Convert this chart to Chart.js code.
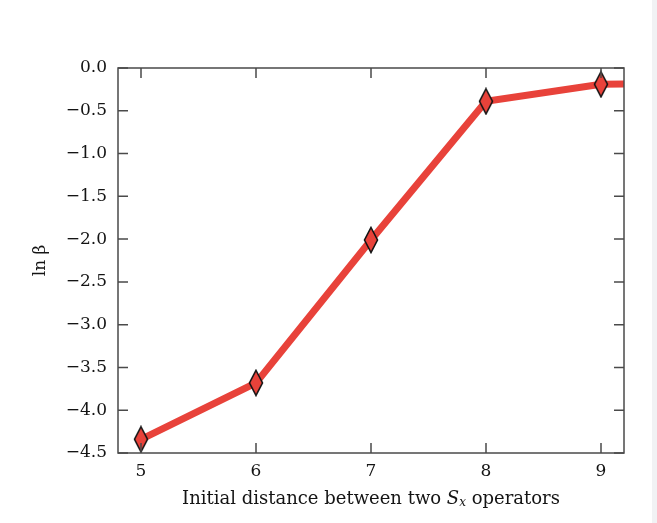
<!DOCTYPE html>
<html>
<head>
<meta charset="utf-8">
<script src="https://cdn.jsdelivr.net/npm/chart.js@4.4.1/dist/chart.umd.min.js"></script>
<style>
    html, body { margin: 0; padding: 0; background: #fff; }
    #wrap { position: relative; width: 657px; height: 523px; overflow: hidden; }
    #chart { position: absolute; left: 0; top: 0; }
    #strip { position: absolute; left: 652px; top: 0; width: 5px; height: 523px; background: #f1f2f4; }
</style>
</head>
<body>
<div id="wrap">
    <canvas id="chart" width="652" height="523"></canvas>
    <div id="strip"></div>
</div>
<script>
// Data
const distances = [5, 6, 7, 8, 9, 10];
const lnBeta = [-4.34, -3.68, -2.01, -0.39, -0.19, -0.18];
const xTicks = [5, 6, 7, 8, 9];
const yTicks = [0, -0.5, -1.0, -1.5, -2.0, -2.5, -3.0, -3.5, -4.0, -4.5];

const RED = '#e8423a';
const INK = '#141414';
const FRAME = '#4a4a4a';
const SERIF = '"DejaVu Serif", "Liberation Serif", serif';

// Tall thin diamond marker
function makeDiamond() {
    const c = document.createElement('canvas');
    c.width = 16;
    c.height = 28;
    const g = c.getContext('2d');
    g.beginPath();
    g.moveTo(8, 1.5);
    g.lineTo(14.5, 14);
    g.lineTo(8, 26.5);
    g.lineTo(1.5, 14);
    g.closePath();
    g.fillStyle = RED;
    g.fill();
    g.lineWidth = 1.6;
    g.strokeStyle = INK;
    g.stroke();
    return c;
}

// Box frame with inward ticks on all four sides, plus the x title
const framePlugin = {
    id: 'frame',
    afterDatasetsDraw(chart) {
        const { ctx, chartArea: a, scales } = chart;
        const tl = 10;
        ctx.save();
        ctx.strokeStyle = FRAME;
        ctx.lineWidth = 1.5;
        ctx.strokeRect(a.left, a.top, a.right - a.left, a.bottom - a.top);
        ctx.beginPath();
        xTicks.forEach(v => {
            const px = scales.x.getPixelForValue(v);
            ctx.moveTo(px, a.bottom); ctx.lineTo(px, a.bottom - tl);
            ctx.moveTo(px, a.top); ctx.lineTo(px, a.top + tl);
        });
        yTicks.forEach(v => {
            const py = scales.y.getPixelForValue(v);
            ctx.moveTo(a.left, py); ctx.lineTo(a.left + tl, py);
            ctx.moveTo(a.right, py); ctx.lineTo(a.right - tl, py);
        });
        ctx.stroke();

        // x axis title with italic S and subscript x
        const parts = [
            { t: 'Initial distance between two ', f: '18px ' + SERIF, dy: 0 },
            { t: 'S', f: 'italic 18px ' + SERIF, dy: 0 },
            { t: 'x', f: 'italic 12px ' + SERIF, dy: 4 },
            { t: ' operators', f: '18px ' + SERIF, dy: 0 }
        ];
        let total = 0;
        parts.forEach(p => { ctx.font = p.f; p.w = ctx.measureText(p.t).width; total += p.w; });
        let x = (a.left + a.right) / 2 - total / 2;
        const y = 499;
        ctx.fillStyle = INK;
        ctx.textBaseline = 'middle';
        ctx.textAlign = 'left';
        parts.forEach(p => {
            ctx.font = p.f;
            ctx.fillText(p.t, x, y + p.dy);
            x += p.w;
        });
        ctx.restore();
    }
};

function fmt(v) {
    const s = Math.abs(v).toFixed(1);
    return v < 0 ? '\u2212' + s : s;
}

new Chart(document.getElementById('chart'), {
    type: 'line',
    data: {
        datasets: [{
            data: distances.map((d, i) => ({ x: d, y: lnBeta[i] })),
            borderColor: RED,
            borderWidth: 7,
            pointStyle: makeDiamond(),
            pointRadius: 8,
            pointHoverRadius: 8,
            clip: 0,
            tension: 0
        }]
    },
    options: {
        responsive: false,
        devicePixelRatio: 1,
        animation: false,
        layout: { padding: { left: 20, top: 68, right: 28, bottom: 0 } },
        plugins: {
            legend: { display: false },
            tooltip: { enabled: false }
        },
        scales: {
            x: {
                type: 'linear',
                min: 4.8,
                max: 9.2,
                afterBuildTicks: s => { s.ticks = xTicks.map(v => ({ value: v })); },
                afterFit: s => { s.height = 70; },
                grid: { display: false, drawTicks: false },
                border: { display: false },
                ticks: {
                    padding: 8,
                    color: INK,
                    font: { family: SERIF, size: 17 },
                    callback: v => String(v)
                }
            },
            y: {
                min: -4.5,
                max: 0,
                afterBuildTicks: s => { s.ticks = yTicks.map(v => ({ value: v })); },
                afterFit: s => { s.width = 98; },
                grid: { display: false, drawTicks: false },
                border: { display: false },
                ticks: {
                    padding: 11,
                    color: INK,
                    font: { family: SERIF, size: 17 },
                    callback: v => fmt(v)
                },
                title: {
                    display: true,
                    text: 'ln \u03b2',
                    color: INK,
                    font: { family: SERIF, size: 17 },
                    padding: { top: 10, bottom: 0 }
                }
            }
        }
    },
    plugins: [framePlugin]
});
</script>
</body>
</html>
